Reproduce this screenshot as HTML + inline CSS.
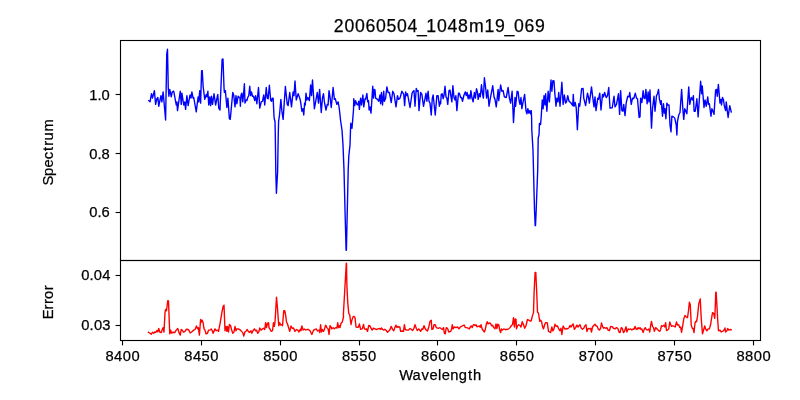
<!DOCTYPE html>
<html><head><meta charset="utf-8"><title>20060504_1048m19_069</title>
<style>
html,body{margin:0;padding:0;background:#fff;}
body{width:800px;height:400px;overflow:hidden;font-family:"Liberation Sans",sans-serif;}
svg{display:block;}
text{font-family:"Liberation Sans",sans-serif;fill:#000;stroke:#000;stroke-width:0.25px;filter:grayscale(1);}
</style></head><body>
<svg width="800" height="400" viewBox="0 0 800 400">
<rect x="0" y="0" width="800" height="400" fill="#ffffff"/>
<polyline fill="none" stroke="#0000ff" stroke-width="1.39" stroke-linejoin="round" stroke-linecap="square" points="148.75,100.62 150.0,101.88 151.5,93.75 152.5,98.12 154.38,90.62 155.62,104.38 156.88,98.75 157.88,97.5 158.75,106.25 160.0,100.0 161.0,95.62 161.88,101.88 163.12,91.88 165.62,120.0 166.75,53.75 167.5,49.25 168.25,87.5 168.88,96.25 169.75,89.38 171.25,96.88 172.25,91.88 173.75,91.25 176.25,105.0 176.88,101.88 177.5,110.62 180.25,91.25 181.25,104.38 181.88,93.12 183.75,105.0 184.75,101.88 185.62,109.38 186.88,95.62 188.12,105.62 190.0,95.0 191.0,98.12 191.88,91.88 193.12,98.12 193.75,97.5 196.25,111.88 198.12,96.88 198.75,101.88 199.75,90.62 200.62,103.12 201.62,70.62 202.25,70.62 203.12,86.25 204.75,99.38 206.25,94.38 206.88,96.88 207.88,91.25 208.75,105.0 209.75,96.88 210.62,105.62 211.5,96.25 212.5,104.38 214.0,93.75 215.62,105.0 217.75,94.38 218.75,108.12 220.0,110.0 222.12,59.38 223.0,59.0 224.0,87.5 224.38,92.5 225.38,90.62 226.88,107.5 227.88,98.12 229.38,118.75 230.25,119.38 232.75,92.5 233.75,95.0 235.0,106.88 236.0,95.62 236.88,103.75 238.12,96.25 240.0,98.12 240.38,106.25 241.0,95.0 241.88,93.12 242.75,101.88 243.5,95.0 244.38,83.75 245.0,103.12 246.0,100.0 246.88,100.62 247.75,97.5 248.75,95.62 249.75,86.25 250.62,95.62 251.5,91.88 252.5,96.25 253.5,96.25 254.75,100.62 255.62,95.62 256.88,103.75 258.5,87.5 259.75,108.12 261.25,101.88 262.5,101.25 263.75,95.0 264.75,105.0 266.25,87.5 267.25,98.12 268.12,98.75 269.38,85.25 270.62,100.0 271.5,101.25 272.25,98.12 273.12,98.12 274.0,116.25 274.3,119.0 275.0,121.5 275.3,135.0 275.8,172.0 276.4,193.2 277.6,172.0 278.25,135.0 278.6,121.25 279.4,116.2 280.88,99.38 281.88,111.25 283.12,119.38 285.38,86.5 287.25,104.38 288.12,105.62 289.75,92.5 291.5,106.88 293.12,91.88 294.0,95.62 295.0,81.0 296.25,100.0 298.12,93.75 299.75,98.12 300.62,101.88 301.88,111.25 302.88,108.75 303.75,115.0 304.62,103.12 305.25,105.0 306.0,93.12 306.88,100.0 307.88,97.5 309.38,100.62 310.62,85.0 311.5,95.62 312.5,80.0 314.38,108.75 315.62,101.88 317.25,92.5 318.5,103.12 319.62,89.38 321.25,112.5 322.5,97.5 323.5,93.75 324.38,101.88 326.0,110.0 327.25,104.38 328.12,105.0 329.0,90.62 330.0,96.88 331.25,107.5 333.12,87.5 334.38,99.38 335.25,98.75 336.88,104.38 338.12,101.88 339.12,107.5 339.75,112.5 340.5,120.0 342.0,130.0 343.0,145.0 344.0,170.0 345.0,210.0 346.1,250.2 346.4,250.2 347.3,210.0 348.2,170.0 348.8,156.0 350.0,145.0 350.5,130.0 350.75,123.25 352.0,128.25 353.5,110.0 353.75,98.75 354.75,105.62 355.62,100.62 356.88,104.38 357.88,105.0 358.75,101.25 359.38,109.38 360.62,98.12 361.5,105.0 362.88,95.0 363.75,106.88 365.0,98.75 365.62,99.38 366.88,93.5 367.75,101.88 368.5,100.62 369.12,110.0 370.0,106.88 371.0,113.12 372.75,86.25 373.5,98.12 374.38,89.38 375.0,90.0 375.62,98.12 377.5,99.38 378.75,101.25 380.0,95.0 380.62,103.75 381.5,92.5 382.5,105.0 383.75,91.25 384.38,101.25 385.62,98.12 386.88,86.88 388.12,92.5 389.38,92.5 391.25,102.5 392.75,91.25 394.0,93.75 396.0,106.88 397.5,95.62 398.5,99.38 400.0,98.12 401.88,91.25 403.75,94.38 404.62,105.62 405.62,91.88 406.62,95.62 407.5,93.75 410.0,107.5 412.12,93.12 413.12,91.25 414.0,90.62 415.0,106.25 416.25,88.5 417.25,91.25 418.12,90.62 419.0,110.62 420.62,92.5 421.88,94.38 423.5,106.25 425.0,98.75 426.0,93.12 426.88,101.25 428.12,91.25 429.0,101.25 430.0,103.12 431.25,115.0 432.25,98.75 433.12,95.0 435.25,115.0 436.88,95.62 438.12,95.62 439.38,106.25 440.0,101.88 440.62,103.75 441.25,94.38 442.25,93.75 443.12,98.75 444.0,95.62 445.0,86.25 446.0,96.88 446.88,98.12 447.75,104.38 449.0,90.62 450.0,90.0 451.0,96.88 451.88,101.88 452.88,85.62 454.0,97.5 455.0,100.0 455.88,95.62 456.88,110.62 458.5,93.12 459.38,93.12 460.62,97.5 461.5,97.5 462.5,101.25 464.0,95.0 465.38,91.88 466.25,95.62 467.12,92.5 468.12,98.75 469.0,95.0 470.0,98.75 470.88,90.62 471.88,97.5 473.12,101.88 474.38,92.5 475.38,98.12 476.5,88.75 477.5,92.5 478.12,99.38 479.38,93.75 480.25,96.88 481.5,84.75 482.5,93.75 483.38,98.12 484.38,77.75 485.62,87.5 486.62,98.12 487.75,90.0 489.0,106.25 490.62,96.88 492.75,85.62 494.0,96.88 495.0,99.38 496.25,106.88 498.12,89.38 498.75,100.62 500.62,85.0 501.88,91.25 503.12,90.62 504.38,96.88 506.25,97.5 508.12,87.5 509.38,98.12 510.62,103.12 512.12,91.25 513.5,122.5 515.0,97.5 515.62,106.25 517.12,91.25 518.12,91.88 519.12,100.62 520.0,104.38 521.0,97.5 521.88,108.75 523.12,101.88 524.62,94.38 526.0,110.62 526.88,113.75 527.88,108.75 528.75,113.12 529.75,110.62 530.62,113.75 531.25,110.62 531.6,117.5 531.8,130.0 533.0,150.0 533.5,170.0 534.5,210.0 535.2,225.6 535.5,225.6 536.2,210.0 537.7,170.0 538.2,138.0 539.0,135.0 539.2,130.0 539.4,123.75 540.3,123.1 540.6,124.5 541.25,116.25 542.25,100.0 543.12,108.75 544.0,95.62 545.0,105.0 545.62,93.75 546.88,111.25 548.12,91.25 549.38,101.88 551.0,80.0 551.88,91.25 552.88,80.62 554.0,81.0 554.75,92.5 556.0,106.25 556.88,98.12 557.88,101.88 558.75,92.5 560.0,106.25 561.88,82.25 563.12,104.38 564.38,95.0 565.62,103.12 566.5,101.88 567.75,95.62 569.0,101.25 570.62,102.5 572.75,105.62 573.25,94.38 574.0,106.25 575.25,102.5 576.25,108.12 577.38,129.75 578.75,103.75 579.75,106.25 581.62,88.75 583.12,88.5 583.75,98.12 585.62,105.62 587.5,93.12 588.5,97.5 589.38,103.12 591.5,86.88 592.75,97.5 594.0,106.88 595.0,96.88 596.0,110.62 597.75,98.12 598.5,99.38 599.75,93.12 601.0,110.0 602.5,94.38 603.5,96.88 604.62,92.5 606.25,97.5 607.5,95.62 608.75,87.5 610.0,108.12 612.25,107.75 614.0,96.25 615.0,106.88 616.5,104.38 618.5,93.75 619.62,114.38 620.62,90.62 621.88,110.62 622.88,111.25 623.75,104.38 625.0,115.62 626.25,102.5 627.75,96.25 629.0,96.88 629.75,92.5 631.25,104.38 632.5,98.12 633.75,98.75 635.25,93.12 636.5,98.12 637.5,98.75 639.12,117.5 640.0,116.88 640.62,98.12 641.88,102.5 643.12,90.62 644.0,98.12 645.0,98.75 645.88,89.38 647.12,103.75 648.12,91.88 649.0,101.88 650.0,90.0 651.0,116.25 651.5,128.12 652.5,108.75 654.0,96.25 655.0,111.25 656.5,95.62 657.5,93.75 658.5,89.38 659.38,98.75 660.62,104.38 661.25,100.62 662.5,116.25 663.5,103.75 664.38,113.12 665.0,108.75 665.88,118.75 666.88,103.12 667.75,105.0 669.0,105.0 670.0,125.0 671.0,131.88 671.88,116.25 673.5,116.88 674.75,118.12 676.25,125.0 676.88,135.0 677.5,121.25 678.75,115.0 680.0,112.5 681.62,89.38 682.88,109.38 683.75,119.38 684.75,108.75 685.62,110.62 686.88,113.75 688.75,86.88 689.75,104.38 691.25,97.5 692.5,100.0 693.38,95.62 694.12,111.25 695.25,111.25 696.88,98.75 698.12,116.88 699.75,93.75 700.62,81.25 701.62,93.75 702.25,86.0 704.0,107.5 705.0,100.0 706.25,106.25 707.75,96.88 708.5,104.38 709.38,103.75 711.0,116.25 711.88,108.75 712.75,110.62 714.0,114.38 715.62,90.0 716.5,89.38 717.25,96.25 718.38,84.38 720.0,103.12 721.0,99.38 721.5,105.0 722.5,97.5 723.5,100.0 724.38,106.25 725.62,110.62 726.25,101.88 727.5,112.5 728.12,117.5 729.75,105.62 731.25,111.88"/>
<polyline fill="none" stroke="#ff0000" stroke-width="1.39" stroke-linejoin="round" stroke-linecap="square" points="148.5,332.25 150.0,333.25 151.25,334.25 152.5,332.25 153.75,333.25 154.75,332.0 156.0,332.25 156.88,330.5 157.75,331.75 158.75,328.5 159.75,332.0 161.25,332.62 162.25,329.5 163.12,327.62 164.0,332.0 165.0,312.62 165.62,309.5 166.5,310.75 167.75,300.75 168.5,301.0 169.75,333.88 170.62,330.12 171.5,333.0 173.12,332.25 174.75,332.62 176.25,330.12 177.75,328.5 179.0,332.62 180.25,335.12 181.25,329.5 182.25,330.12 183.5,332.25 185.0,331.38 186.5,329.25 188.12,329.5 189.0,330.5 190.25,333.0 191.88,331.75 193.75,330.12 195.0,329.5 196.5,326.0 197.5,328.88 198.38,327.62 199.38,335.12 200.62,319.5 201.5,322.0 202.25,320.12 203.12,322.62 204.0,328.88 205.0,330.12 206.0,333.88 207.5,333.25 208.5,330.12 210.0,330.12 211.25,328.88 212.25,330.75 213.12,333.25 215.0,328.88 216.25,330.75 217.5,330.12 218.5,331.38 220.0,323.88 221.88,312.62 223.12,306.38 224.0,305.12 225.0,330.75 226.0,326.38 226.88,331.38 227.5,326.38 228.5,332.0 229.38,324.5 230.62,325.75 231.5,329.5 232.75,333.25 234.0,332.0 235.0,326.38 236.0,330.75 236.88,328.88 238.12,328.88 240.0,329.75 241.5,331.38 242.75,332.62 243.75,336.0 245.0,331.75 246.25,331.0 247.25,329.5 248.5,331.75 249.75,332.25 251.0,330.75 251.88,333.25 253.12,330.5 254.38,328.88 255.62,330.75 256.5,330.12 257.75,333.25 259.0,331.38 259.75,328.0 261.0,330.12 262.5,328.88 263.75,328.25 264.75,329.5 265.62,322.62 266.5,327.62 267.5,323.25 268.5,322.62 269.0,327.62 270.25,329.5 271.25,331.38 272.5,330.75 273.5,322.62 274.38,326.38 275.0,322.0 276.5,297.25 277.5,308.25 278.75,325.75 279.75,322.62 280.62,325.12 281.88,324.5 282.5,325.75 283.75,310.75 284.75,310.75 285.62,315.12 286.5,322.0 287.5,323.88 288.75,328.25 289.75,331.38 291.0,326.0 292.25,328.25 293.5,328.0 295.0,331.38 296.5,329.5 297.75,330.12 299.0,332.0 300.25,329.25 301.0,330.75 301.88,326.0 303.12,330.12 304.38,328.88 305.62,330.12 306.88,329.5 308.5,329.5 310.0,330.75 311.88,334.5 313.5,330.12 315.0,329.5 316.25,328.88 317.5,331.0 319.0,330.12 319.75,332.62 320.62,324.75 321.5,332.0 322.5,329.5 323.5,331.38 324.38,329.5 325.62,325.12 326.88,327.62 328.12,328.88 329.0,334.5 330.0,325.75 331.0,327.0 331.88,328.88 333.12,327.62 334.38,328.88 335.62,327.62 336.88,328.0 337.75,322.62 338.5,327.62 339.38,325.75 340.0,327.62 341.0,323.25 342.25,322.0 343.5,317.0 343.4,314.0 345.1,284.0 346.3,263.2 346.5,263.2 346.85,284.0 347.75,302.75 348.75,313.25 349.75,315.12 351.0,324.5 351.88,320.12 353.12,316.75 354.0,316.38 355.0,317.62 356.0,327.0 357.5,327.25 358.5,327.0 359.38,323.88 360.62,329.25 362.25,328.88 363.5,324.5 364.38,328.88 365.62,329.25 366.5,328.88 367.5,331.38 368.75,325.5 370.0,326.0 371.0,328.25 372.25,330.12 373.5,328.25 375.0,328.88 376.5,329.5 378.12,328.88 379.75,328.5 380.62,329.25 381.5,328.0 382.5,329.5 383.75,330.12 384.75,329.25 386.25,330.5 387.5,332.25 389.0,330.75 390.0,329.5 391.25,326.38 392.5,329.25 393.75,330.75 395.0,327.25 396.0,325.12 396.88,327.62 397.75,326.38 398.75,327.25 399.75,326.75 400.62,331.38 402.5,331.0 403.5,331.38 404.38,324.75 405.25,329.5 406.88,330.12 408.5,330.12 410.0,328.5 411.25,329.25 412.5,330.5 413.75,328.88 415.0,324.75 416.25,328.25 417.25,330.5 418.75,328.88 420.62,331.38 421.88,328.88 422.75,329.5 424.0,325.75 425.0,328.25 426.25,330.12 427.5,331.0 428.75,327.0 430.0,321.38 431.25,320.12 431.88,329.5 433.12,328.88 434.0,324.75 435.25,324.75 436.25,327.62 437.5,328.0 438.75,328.25 440.0,327.62 441.25,328.88 442.5,329.5 443.5,327.62 444.38,333.25 445.25,333.88 446.25,327.62 447.5,328.25 448.75,332.0 450.62,331.38 451.5,329.5 452.25,324.75 453.12,328.88 454.38,327.0 456.0,327.62 457.5,327.0 459.0,328.88 460.25,327.0 461.5,326.38 463.12,325.5 464.38,325.12 465.25,327.62 466.88,327.62 468.12,328.25 469.38,328.88 470.62,326.38 471.5,326.0 472.25,327.62 473.12,325.12 474.0,324.5 475.0,325.5 476.0,324.75 476.88,326.75 478.12,326.38 479.38,326.0 480.25,327.25 481.0,324.75 482.25,329.25 483.5,330.75 484.38,332.0 485.25,329.5 486.25,324.5 487.25,321.75 488.12,323.88 489.38,323.0 490.62,323.5 491.5,325.75 492.5,325.12 493.75,327.62 495.0,328.88 496.0,323.88 496.88,328.5 497.75,324.25 498.75,324.75 499.75,330.12 500.62,332.62 501.5,328.88 502.5,330.12 503.75,328.88 505.0,329.5 506.25,329.5 507.5,329.25 508.75,328.88 510.0,327.62 511.25,325.75 512.5,324.5 513.5,317.62 514.38,327.0 515.25,318.88 516.0,319.25 516.5,328.88 517.5,325.75 518.75,324.75 520.0,325.5 521.0,327.0 522.25,321.75 523.5,324.75 524.75,328.25 526.0,325.5 527.5,319.5 528.75,320.12 530.0,321.0 531.25,320.75 532.25,316.38 533.5,312.62 534.1,292.0 535.1,272.4 535.8,272.4 536.7,292.0 537.5,312.0 538.5,313.25 539.75,321.38 540.62,320.12 541.5,321.38 542.5,326.38 543.5,328.88 544.75,324.5 545.62,322.62 547.25,322.62 548.5,331.38 549.75,332.0 550.62,332.62 551.88,327.0 552.75,330.75 553.75,329.5 555.0,324.25 556.25,326.38 557.5,326.0 558.75,328.88 560.0,330.75 561.0,328.25 561.88,334.5 563.12,326.0 564.38,328.25 565.25,329.25 566.5,328.5 567.75,328.88 569.0,327.62 570.0,325.5 571.0,327.0 572.25,325.12 573.12,323.88 574.38,329.25 575.62,327.62 576.88,325.12 578.12,327.0 579.0,325.75 580.0,324.75 581.25,328.25 582.5,329.25 583.75,328.25 584.75,326.0 586.0,324.75 586.88,331.38 588.12,328.5 589.38,328.88 590.62,328.25 591.5,332.0 592.5,327.0 593.75,325.5 595.0,324.25 596.25,326.0 597.25,326.38 598.12,328.88 599.38,330.12 600.62,328.25 601.5,323.0 602.5,326.38 603.5,328.25 604.38,327.62 605.62,328.25 606.88,327.62 608.12,330.12 609.38,330.75 610.62,326.38 612.25,326.75 613.5,328.25 615.0,328.88 616.5,327.62 617.75,328.25 619.0,332.0 620.0,332.62 621.25,327.62 622.25,328.25 623.5,332.62 624.75,330.75 626.0,326.75 626.88,332.0 628.12,328.88 629.38,329.5 630.62,328.88 631.88,330.12 633.12,328.88 634.0,329.25 635.0,326.38 636.0,328.88 636.88,329.5 638.12,327.62 639.0,328.88 640.0,327.62 641.0,329.5 641.88,328.88 643.12,332.62 644.38,328.88 645.25,327.62 646.25,329.5 647.5,330.12 648.75,328.88 649.75,332.0 650.62,325.75 651.5,321.38 652.5,326.38 653.5,327.62 654.38,331.38 655.62,327.62 656.5,328.25 657.5,329.5 658.75,330.75 659.75,331.38 660.62,329.5 661.5,325.75 662.5,326.38 663.75,325.12 664.75,327.0 665.62,322.62 666.5,330.5 667.5,330.12 668.75,328.88 669.75,322.0 670.62,324.25 671.5,326.38 672.75,325.75 674.0,326.38 675.25,327.0 676.5,322.0 677.5,325.12 678.75,324.75 679.75,327.62 680.62,327.0 681.5,332.25 682.5,327.0 683.75,318.88 685.0,315.5 686.25,317.0 687.5,317.62 688.5,310.75 689.38,302.25 690.25,304.5 691.25,325.12 692.25,328.25 693.12,328.5 694.0,332.62 695.0,323.25 695.62,321.38 696.5,321.75 697.5,316.38 698.75,303.88 700.25,298.88 701.25,318.88 702.5,333.88 703.75,329.5 704.75,326.0 705.62,328.88 706.88,330.75 708.12,328.88 709.38,328.88 710.62,324.5 711.5,318.88 712.5,312.62 713.75,313.5 714.75,318.25 715.38,304.5 715.75,292.25 716.12,292.25 716.88,305.0 717.75,320.75 718.5,330.75 720.0,330.12 721.25,332.0 723.12,331.0 724.38,329.5 725.0,328.0 725.62,332.0 726.88,330.75 727.75,328.5 728.75,330.12 730.0,329.5 731.25,329.75"/>
<g stroke="#000" stroke-width="1.11" fill="none" stroke-linecap="square">
<rect x="120.5" y="40.5" width="640" height="220"/>
<rect x="120.5" y="260.5" width="640" height="80"/>
</g>
<g stroke="#000" stroke-width="1.11" fill="none">
<line x1="122.5" y1="340.5" x2="122.5" y2="345.4"/>
<line x1="201.5" y1="340.5" x2="201.5" y2="345.4"/>
<line x1="280.5" y1="340.5" x2="280.5" y2="345.4"/>
<line x1="359.5" y1="340.5" x2="359.5" y2="345.4"/>
<line x1="437.5" y1="340.5" x2="437.5" y2="345.4"/>
<line x1="516.5" y1="340.5" x2="516.5" y2="345.4"/>
<line x1="595.5" y1="340.5" x2="595.5" y2="345.4"/>
<line x1="674.5" y1="340.5" x2="674.5" y2="345.4"/>
<line x1="753.5" y1="340.5" x2="753.5" y2="345.4"/>
<line x1="115.6" y1="94.5" x2="120.5" y2="94.5"/>
<line x1="115.6" y1="153.5" x2="120.5" y2="153.5"/>
<line x1="115.6" y1="212.5" x2="120.5" y2="212.5"/>
<line x1="115.6" y1="275.5" x2="120.5" y2="275.5"/>
<line x1="115.6" y1="325.5" x2="120.5" y2="325.5"/>
</g>
<text transform="translate(106.05,360.7)" font-size="14.72" x="-0.68 8.0 16.68 25.37" y="0">8400</text>
<text transform="translate(184.95,360.7)" font-size="14.72" x="-0.68 8.0 16.63 25.37" y="0">8450</text>
<text transform="translate(263.8,360.7)" font-size="14.72" x="-0.68 7.95 16.68 25.37" y="0">8500</text>
<text transform="translate(342.65,360.7)" font-size="14.72" x="-0.68 7.95 16.63 25.37" y="0">8550</text>
<text transform="translate(421.55,360.7)" font-size="14.72" x="-0.68 8.0 16.68 25.37" y="0">8600</text>
<text transform="translate(500.45,360.7)" font-size="14.72" x="-0.68 8.0 16.63 25.37" y="0">8650</text>
<text transform="translate(579.3,360.7)" font-size="14.72" x="-0.68 7.97 16.68 25.37" y="0">8700</text>
<text transform="translate(658.15,360.7)" font-size="14.72" x="-0.68 7.97 16.63 25.37" y="0">8750</text>
<text transform="translate(737.05,360.7)" font-size="14.72" x="-0.68 8.0 16.68 25.37" y="0">8800</text>
<text transform="translate(90.8,99.7)" font-size="14.72" x="-1.53 6.67 10.7" y="0">1.0</text>
<text transform="translate(90.1,158.7)" font-size="14.72" x="-0.84 7.36 11.48" y="0">0.8</text>
<text transform="translate(90.1,216.7)" font-size="14.72" x="-0.85 7.33 11.42" y="0">0.6</text>
<text transform="translate(82.0,279.7)" font-size="14.72" x="-0.78 7.55 11.78 20.16" y="0">0.04</text>
<text transform="translate(82.0,329.7)" font-size="14.72" x="-0.75 7.62 11.91 20.37" y="0">0.03</text>
<text transform="translate(334.75,31.7)" font-size="17.67" x="-1.08 9.66 20.19 30.72 41.24 51.71 62.3 72.82 82.26 91.53 102.15 112.68 123.21 134.13 149.76 160.33 169.82 179.18 189.71 200.18" y="0">20060504_1048m19_069</text>
<text transform="translate(399.75,380.0)" font-size="14.72" x="-0.63 12.67 21.85 29.73 38.28 41.96 50.52 59.1 68.22 73.24" y="0">Wavelength</text>
<text transform="translate(53.0,184.0) rotate(-90)" font-size="14.72" x="-1.4 8.11 16.6 24.79 32.99 38.37 43.59 52.61" y="0">Spectrum</text>
<text transform="translate(53.0,317.2) rotate(-90)" font-size="14.72" x="-2.04 7.74 13.27 18.26 27.03" y="0">Error</text>
</svg>
</body></html>
